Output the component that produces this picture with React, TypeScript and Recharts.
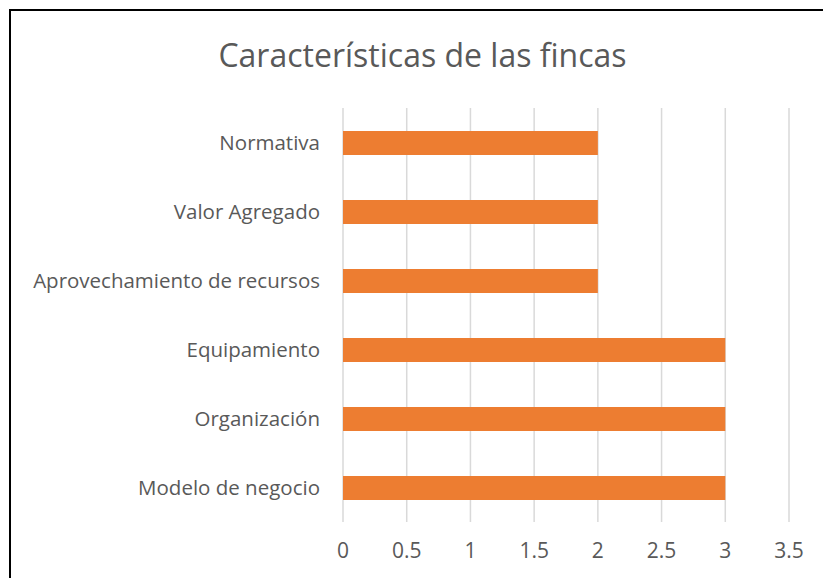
import React from "react"
import { BarChart, Bar, XAxis, YAxis, CartesianGrid } from "recharts"

// categories listed top to bottom as they appear
const categories = [
  "Normativa",
  "Valor Agregado",
  "Aprovechamiento de recursos",
  "Equipamiento",
  "Organización",
  "Modelo de negocio",
]
const values = [2, 2, 2, 3, 3, 3]
const xTicks = [0, 0.5, 1, 1.5, 2, 2.5, 3, 3.5]

const data = categories.map((name, i) => ({ name, value: values[i] }))

const FONT = "'Open Sans', 'Noto Sans', sans-serif"
const TEXT = "#595959"

export default function App() {
  return (
    <div style={{ position: "absolute", left: 0, top: 0, width: 823, height: 578, overflow: "hidden", background: "#fff" }}>
      {/* chart frame, only top/left edges visible in the crop */}
      <div style={{ position: "absolute", left: 9, top: 9, width: 900, height: 700, border: "2px solid #000" }} />
      <div
        style={{
          position: "absolute",
          left: 0,
          top: 33,
          width: 845,
          textAlign: "center",
          fontFamily: FONT,
          fontSize: 32,
          lineHeight: "44px",
          color: TEXT,
        }}
      >
        Características de las fincas
      </div>
      <div style={{ position: "absolute", left: 0, top: 0 }}>
        <BarChart
          width={823}
          height={578}
          data={data}
          layout="vertical"
          margin={{ top: 108, right: 34, bottom: 0, left: 0 }}
        >
          <CartesianGrid horizontal={false} stroke="#d9d9d9" strokeWidth={1.5} />
          <XAxis
            type="number"
            domain={[0, 3.5]}
            ticks={xTicks}
            axisLine={false}
            tickLine={false}
            tickSize={0}
            tickMargin={21}
            height={56}
            interval={0}
            tick={{ fill: TEXT, fontSize: 21, fontFamily: FONT }}
          />
          <YAxis
            type="category"
            dataKey="name"
            width={343}
            axisLine={false}
            tickLine={false}
            tickSize={0}
            tickMargin={23}
            interval={0}
            tick={{ fill: TEXT, fontSize: 20.5, fontFamily: FONT }}
          />
          <Bar dataKey="value" fill="#ED7D31" barSize={24} isAnimationActive={false} />
        </BarChart>
      </div>
    </div>
  )
}
